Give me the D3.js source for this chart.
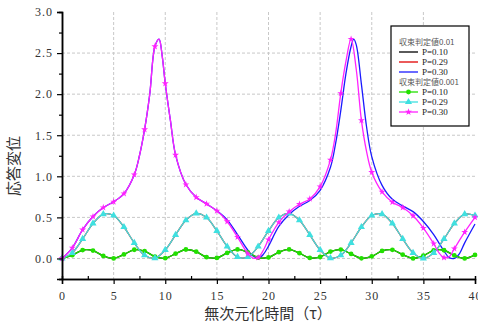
<!DOCTYPE html>
<html>
<head>
<meta charset="utf-8">
<script src="https://cdn.jsdelivr.net/npm/d3@7"></script>
<style>
  body { margin: 0; background: #fff; }
  svg { display: block; }
</style>
</head>
<body>
<div id="chart"></div>
<script>
// Data
var timeInt = d3.range(0, 41);

// threshold 0.001, P=0.10 (green) at integer times
var greenY = [0, 0.040, 0.102, 0.096, 0.031, 0.001, 0.049, 0.106, 0.090, 0.023,
  0.003, 0.058, 0.109, 0.082, 0.016, 0.007, 0.067, 0.110, 0.073, 0.010,
  0.012, 0.076, 0.110, 0.064, 0.006, 0.018, 0.084, 0.108, 0.055, 0.002,
  0.026, 0.092, 0.105, 0.046, 0.000, 0.034, 0.098, 0.100, 0.037, 0.000, 0.043];

// threshold 0.001, P=0.29 (cyan) at integer times
var cyanY = [0, 0.068, 0.238, 0.426, 0.540, 0.523, 0.383, 0.190, 0.039, 0.004,
  0.104, 0.287, 0.465, 0.549, 0.498, 0.336, 0.145, 0.018, 0.018, 0.145,
  0.336, 0.498, 0.549, 0.465, 0.287, 0.104, 0.004, 0.039, 0.190, 0.383,
  0.523, 0.540, 0.426, 0.238, 0.068, 0.000, 0.068, 0.238, 0.426, 0.540, 0.523];

// threshold 0.001, P=0.30 (magenta)
var magentaT = [0, 1, 2, 3, 4, 5, 6, 7, 7.5, 8, 8.5, 9, 9.4, 9.7, 10, 10.5, 11, 12, 13, 14,
  15, 16, 17, 18, 18.5, 19, 19.5, 20, 21, 22, 23, 24, 25, 26, 26.5, 27, 27.5, 28, 28.5, 29,
  29.5, 30, 31, 32, 33, 34, 35, 36, 36.5, 37, 37.5, 38, 39, 40];
var magentaY = [0, 0.13, 0.35, 0.51, 0.62, 0.69, 0.79, 1.02, 1.25, 1.57, 2.0, 2.58, 2.67, 2.47, 2.13, 1.68, 1.26, 0.90, 0.745, 0.665,
  0.58, 0.45, 0.26, 0.06, 0.005, 0.01, 0.10, 0.23, 0.44, 0.57, 0.66, 0.725, 0.875, 1.20, 1.52, 2.01, 2.40, 2.67, 2.30, 1.68,
  1.30, 1.05, 0.81, 0.685, 0.62, 0.52, 0.37, 0.18, 0.07, 0.01, 0.02, 0.12, 0.32, 0.50];

// threshold 0.01, P=0.30 (blue)
var blueT = [0, 1, 2, 3, 4, 5, 6, 7, 7.5, 8, 8.5, 9, 9.4, 9.7, 10, 10.5, 11, 12, 13, 14,
  15, 16, 17, 18, 18.5, 19, 19.5, 20, 21, 22, 23, 24, 25, 26, 26.5, 27, 27.5, 28, 28.25, 28.5,
  29, 29.5, 30, 31, 32, 33, 34, 35, 36, 36.5, 37, 37.5, 38, 38.5, 39, 40];
var blueY = [0, 0.13, 0.35, 0.51, 0.62, 0.69, 0.79, 1.02, 1.25, 1.57, 2.0, 2.58, 2.67, 2.47, 2.13, 1.68, 1.26, 0.90, 0.745, 0.665,
  0.58, 0.47, 0.29, 0.10, 0.03, 0.0, 0.05, 0.15, 0.39, 0.535, 0.635, 0.705, 0.83, 1.11, 1.40, 1.80, 2.25, 2.58, 2.67, 2.60,
  2.12, 1.60, 1.24, 0.89, 0.72, 0.64, 0.57, 0.45, 0.29, 0.19, 0.09, 0.01, 0.0, 0.06, 0.19, 0.42];

// threshold 0.01, P=0.10 and P=0.29 lie under the green and cyan curves
var blackY = greenY;
var redY = cyanY;

var yTicks = [0, 0.5, 1.0, 1.5, 2.0, 2.5, 3.0];
var xTicks = [0, 5, 10, 15, 20, 25, 30, 35, 40];

// Layout
var width = 478;
var height = 327;
var plotLeft = 62;
var plotRight = 475;
var plotTop = 12;
var plotBottom = 279;
var tickFont = 'Liberation Serif, DejaVu Serif, serif';
var cjkFont = 'Noto Sans CJK JP, sans-serif';

var x = d3.scaleLinear().domain([0, 40]).range([plotLeft, plotRight]);
var y = d3.scaleLinear().domain([-0.25, 3]).range([plotBottom, plotTop]);

var svg = d3.select('#chart')
  .append('svg')
  .attr('width', width)
  .attr('height', height);

// Grid lines
var grid = svg.append('g')
  .attr('stroke', '#c8c8c8')
  .attr('stroke-width', 1)
  .attr('stroke-dasharray', '3,2');
grid.selectAll('.vgrid')
  .data(xTicks.slice(1, -1))
  .enter()
  .append('line')
  .attr('x1', function (d) { return x(d); })
  .attr('x2', function (d) { return x(d); })
  .attr('y1', plotTop)
  .attr('y2', plotBottom);
grid.selectAll('.hgrid')
  .data(yTicks.slice(0, -1))
  .enter()
  .append('line')
  .attr('x1', plotLeft)
  .attr('x2', plotRight)
  .attr('y1', function (d) { return y(d); })
  .attr('y2', function (d) { return y(d); });

// Series
function pairs(ts, vs) {
  return ts.map(function (t, i) { return [t, vs[i]]; });
}
var line = d3.line()
  .x(function (d) { return x(d[0]); })
  .y(function (d) { return y(d[1]); })
  .curve(d3.curveCatmullRom.alpha(0.5));

var series = [
  { label: 'P=0.10', color: '#000000', data: pairs(timeInt, blackY), marker: null },
  { label: 'P=0.29', color: '#e00000', data: pairs(timeInt, redY), marker: null },
  { label: 'P=0.30', color: '#1a1aff', data: pairs(blueT, blueY), marker: null },
  { label: 'P=0.10', color: '#22e000', data: pairs(timeInt, greenY), marker: d3.symbolCircle, size: 18 },
  { label: 'P=0.29', color: '#3fe0e0', data: pairs(timeInt, cyanY), marker: d3.symbolTriangle, size: 22 },
  { label: 'P=0.30', color: '#ff22ff', data: pairs(magentaT, magentaY), marker: d3.symbolStar, size: 15 }
];

var plot = svg.append('g');
series.forEach(function (s) {
  plot.append('path')
    .attr('d', line(s.data))
    .attr('fill', 'none')
    .attr('stroke', s.color)
    .attr('stroke-width', 1.3);
  if (s.marker) {
    plot.selectAll(null)
      .data(s.data.filter(function (d) { return d[0] % 1 === 0; }))
      .enter()
      .append('path')
      .attr('d', d3.symbol().type(s.marker).size(s.size))
      .attr('transform', function (d) { return 'translate(' + x(d[0]) + ',' + y(d[1]) + ')'; })
      .attr('fill', s.color);
  }
});

// Axes
var yAxis = svg.append('g')
  .attr('transform', 'translate(' + plotLeft + ',0)')
  .call(d3.axisLeft(y).tickValues(yTicks).tickSize(5).tickPadding(4)
    .tickFormat(d3.format('.1f')));
var yMinor = svg.append('g')
  .attr('transform', 'translate(' + plotLeft + ',0)')
  .call(d3.axisLeft(y).tickValues([-0.25, 0.25, 0.75, 1.25, 1.75, 2.25, 2.75]).tickSize(3).tickFormat(''));
var xAxis = svg.append('g')
  .attr('transform', 'translate(0,' + plotBottom + ')')
  .call(d3.axisBottom(x).tickValues(xTicks).tickSize(5).tickPadding(7));
var xMinor = svg.append('g')
  .attr('transform', 'translate(0,' + plotBottom + ')')
  .call(d3.axisTop(x).tickValues([2.5, 7.5, 12.5, 17.5, 22.5, 27.5, 32.5, 37.5]).tickSize(3).tickFormat(''));

[yAxis, yMinor, xAxis, xMinor].forEach(function (g) {
  g.select('.domain').attr('stroke', '#000').attr('stroke-width', 1.5);
  g.selectAll('.tick line').attr('stroke', '#000').attr('stroke-width', 1.2);
  g.selectAll('text')
    .attr('font-family', tickFont)
    .attr('font-size', 12)
    .attr('letter-spacing', 1)
    .attr('fill', '#333');
});

// Axis titles
svg.append('text')
  .attr('x', 268)
  .attr('y', 319)
  .attr('text-anchor', 'middle')
  .attr('font-family', cjkFont)
  .attr('font-size', 15)
  .attr('fill', '#333')
  .text('無次元化時間（τ）');
svg.append('text')
  .attr('transform', 'translate(19,166) rotate(-90)')
  .attr('text-anchor', 'middle')
  .attr('font-family', cjkFont)
  .attr('font-size', 15)
  .attr('fill', '#333')
  .text('応答変位');

// Legend
var legend = svg.append('g').attr('transform', 'translate(391,26)');
legend.append('rect')
  .attr('width', 78)
  .attr('height', 100)
  .attr('fill', '#fff')
  .attr('stroke', '#000')
  .attr('stroke-width', 1.2);
var headers = [
  { text: '収束判定値0.01', y: 16 },
  { text: '収束判定値0.001', y: 56 }
];
headers.forEach(function (h) {
  legend.append('text')
    .attr('x', 8)
    .attr('y', h.y + 3)
    .attr('font-family', cjkFont)
    .attr('font-size', 8)
    .attr('fill', '#555')
    .text(h.text);
});
var rowY = [26, 36, 46, 66, 76, 86];
series.forEach(function (s, i) {
  var ry = rowY[i];
  legend.append('line')
    .attr('x1', 8)
    .attr('x2', 27)
    .attr('y1', ry)
    .attr('y2', ry)
    .attr('stroke', s.color)
    .attr('stroke-width', 1.3);
  if (s.marker) {
    legend.append('path')
      .attr('d', d3.symbol().type(s.marker).size(s.size))
      .attr('transform', 'translate(17.5,' + ry + ')')
      .attr('fill', s.color);
  }
  legend.append('text')
    .attr('x', 31)
    .attr('y', ry + 3)
    .attr('font-family', tickFont)
    .attr('font-size', 9)
    .attr('fill', '#222')
    .text(s.label);
});
</script>
</body>
</html>
